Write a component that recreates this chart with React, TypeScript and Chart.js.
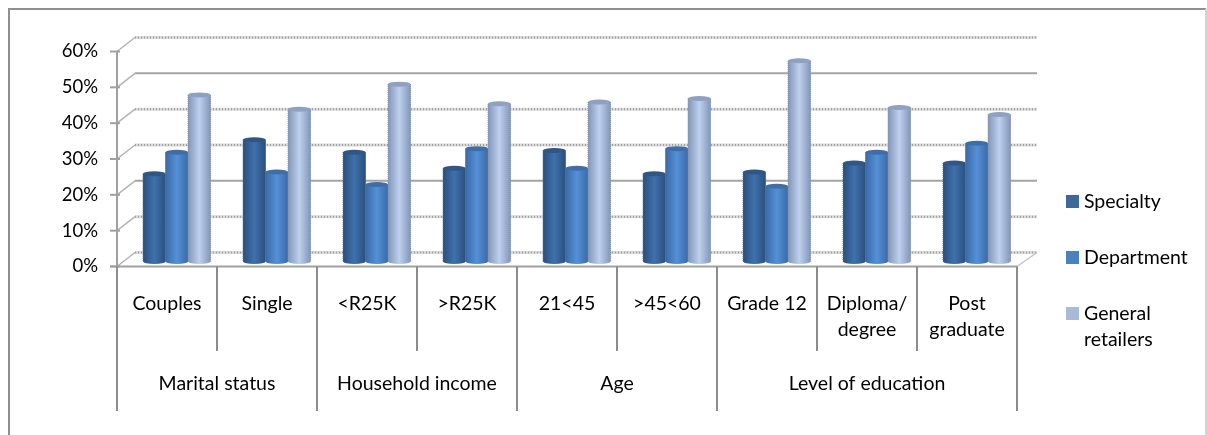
import React, { useEffect, useRef } from "react";
import { Chart, registerables } from "chart.js";

Chart.register(...registerables);

const categories: (string | string[])[] = [
  "Couples", "Single", "<R25K", ">R25K", "21<45", ">45<60", "Grade 12",
  ["Diploma/", "degree"], ["Post", "graduate"],
];
const groupLabels = ["Marital status", "Household income", "Age", "Level of education"];
const groupSpans = [2, 2, 2, 3];

const specialty = [24.5, 34, 30.5, 26, 31, 24.5, 25, 27.5, 27.5];
const department = [30.5, 25, 21.5, 31.5, 26, 31.5, 21, 30.5, 33];
const generalRetailers = [46.5, 42.5, 49.5, 44, 44.5, 45.5, 56, 43, 41];

const seriesNames: string[][] = [["Specialty"], ["Department"], ["General", "retailers"]];
const seriesColors = ["#3f6797", "#4d81bd", "#a9b9d8"];
const seriesShades = [
  { edge: "#2b4f7e", mid: "#3f71ab", cap: "#2f5686", rim: "#4a6c96" },
  { edge: "#3a6aa6", mid: "#5590d8", cap: "#3e6ea8", rim: "#5478a8" },
  { edge: "#8496b8", mid: "#bdd0ee", cap: "#8fa1c2", rim: "#7f8fac" },
];
const dottedGrid = [60, 40, 30, 10, 0];
const solidGrid = [50, 20];

const FONT = "Lato, Carlito, sans-serif";
const AXIS = "#a0a0a0";
const DIVIDER = "#8c8c8c";
// Perspective of the chart box: back wall and bar plane relative to the front axes.
const WALL_DX = 18;
const WALL_DY = -14;
const BAR_DX = 9.8;
const BAR_DY = -5;

const boxPlugin = {
  id: "box3d",
  beforeDatasetsDraw(chart: any) {
    const { ctx, scales } = chart;
    const { x: xs, y: ys } = scales;
    const half = (xs.getPixelForValue(1) - xs.getPixelForValue(0)) / 2;
    const left = xs.getPixelForValue(0) - half;
    const right = xs.getPixelForValue(categories.length - 1) + half;
    ctx.save();

    // Outer frame of the chart object
    ctx.strokeStyle = "#8f8f8f";
    ctx.lineWidth = 2;
    ctx.beginPath();
    ctx.moveTo(9, 435);
    ctx.lineTo(9, 9);
    ctx.lineTo(1206, 9);
    ctx.stroke();
    ctx.strokeStyle = "#d4d4d4";
    ctx.beginPath();
    ctx.moveTo(1206, 9);
    ctx.lineTo(1206, 435);
    ctx.stroke();

    // Back wall grid lines and their diagonals back from the value axis
    for (const v of [...dottedGrid, ...solidGrid]) {
      const y = ys.getPixelForValue(v);
      const yb = y + WALL_DY;
      ctx.setLineDash([]);
      ctx.strokeStyle = "#b4b4b4";
      ctx.lineWidth = 1.5;
      ctx.beginPath();
      ctx.moveTo(left, y);
      ctx.lineTo(left + WALL_DX, yb);
      ctx.stroke();
      if (dottedGrid.includes(v)) {
        ctx.strokeStyle = "#dadada";
        ctx.lineWidth = 3;
        ctx.beginPath();
        ctx.moveTo(left + WALL_DX, yb);
        ctx.lineTo(right + WALL_DX + 2, yb);
        ctx.stroke();
        ctx.strokeStyle = "#a0a0a0";
        ctx.lineWidth = 2;
        ctx.setLineDash([1, 2]);
      } else {
        ctx.strokeStyle = "#a4a4a4";
        ctx.lineWidth = 2;
      }
      ctx.beginPath();
      ctx.moveTo(left + WALL_DX, yb);
      ctx.lineTo(right + WALL_DX + 2, yb);
      ctx.stroke();
      ctx.setLineDash([]);

      // Tick mark on the value axis
      ctx.strokeStyle = AXIS;
      ctx.lineWidth = 2;
      ctx.beginPath();
      ctx.moveTo(left - 7, y);
      ctx.lineTo(left + 3, y);
      ctx.stroke();
    }

    // Floor edge on the right
    const y0 = ys.getPixelForValue(0);
    ctx.strokeStyle = "#c4c4c4";
    ctx.lineWidth = 1.5;
    ctx.beginPath();
    ctx.moveTo(right, y0);
    ctx.lineTo(right + WALL_DX + 2, y0 + WALL_DY);
    ctx.stroke();

    // Front axes
    ctx.strokeStyle = AXIS;
    ctx.lineWidth = 2;
    ctx.beginPath();
    ctx.moveTo(left, ys.getPixelForValue(60));
    ctx.lineTo(left, y0);
    ctx.moveTo(left - 7, y0);
    ctx.lineTo(right, y0);
    ctx.stroke();

    // Category dividers: short between items, long between groups
    const groupEdges = new Set<number>([0]);
    let acc = 0;
    for (const s of groupSpans) {
      acc += s;
      groupEdges.add(acc);
    }
    ctx.strokeStyle = DIVIDER;
    ctx.lineWidth = 2;
    for (let i = 0; i <= categories.length; i++) {
      const x = left + i * half * 2;
      ctx.beginPath();
      ctx.moveTo(x, y0);
      ctx.lineTo(x, groupEdges.has(i) ? 411 : 351);
      ctx.stroke();
    }

    // Group captions under the categories
    ctx.fillStyle = "#000";
    ctx.font = `19.5px ${FONT}`;
    ctx.textAlign = "center";
    ctx.textBaseline = "middle";
    let start = 0;
    groupLabels.forEach((g, i) => {
      ctx.fillText(g, left + (start + groupSpans[i] / 2) * half * 2, 384);
      start += groupSpans[i];
    });

    // Legend
    let rowY = 202;
    seriesNames.forEach((lines, i) => {
      ctx.fillStyle = seriesColors[i];
      ctx.fillRect(1066, rowY - 7, 13, 13);
      ctx.fillStyle = "#000";
      ctx.textAlign = "left";
      lines.forEach((t, k) => ctx.fillText(t, 1084, rowY + k * 26));
      rowY += 56;
    });
    ctx.restore();

    // Bars stand on a plane between the front axes and the back wall
    ctx.save();
    ctx.translate(BAR_DX, BAR_DY);
  },
  afterDatasetsDraw(chart: any) {
    const { ctx } = chart;
    // Round the flat bars into cylinders
    chart.data.datasets.forEach((_: any, di: number) => {
      const shade = seriesShades[di];
      for (const el of chart.getDatasetMeta(di).data) {
        const { x, y, base, width } = el.getProps(["x", "y", "base", "width"], true);
        const l = x - width / 2;
        const r = x + width / 2;
        const ry = 2.5;
        const g = ctx.createLinearGradient(l, 0, r, 0);
        g.addColorStop(0, shade.edge);
        g.addColorStop(0.5, shade.mid);
        g.addColorStop(1, shade.edge);
        ctx.fillStyle = g;
        ctx.fillRect(l, y, width, base - y);
        ctx.beginPath();
        ctx.ellipse(x, base, width / 2, ry, 0, 0, Math.PI * 2);
        ctx.fill();
        ctx.fillStyle = shade.cap;
        ctx.beginPath();
        ctx.ellipse(x, y, width / 2, ry, 0, 0, Math.PI * 2);
        ctx.fill();
        ctx.strokeStyle = shade.rim;
        ctx.lineWidth = 1;
        ctx.setLineDash([1, 1]);
        ctx.beginPath();
        ctx.moveTo(l, y);
        ctx.lineTo(l, base);
        ctx.moveTo(r, y);
        ctx.lineTo(r, base);
        ctx.stroke();
        ctx.setLineDash([]);
      }
    });
    ctx.restore();
  },
};

export default function App() {
  const ref = useRef<HTMLCanvasElement>(null);
  useEffect(() => {
    const chart = new Chart(ref.current!, {
      type: "bar",
      data: {
        labels: categories as any,
        datasets: [specialty, department, generalRetailers].map((data, i) => ({
          label: seriesNames[i].join(" "),
          data,
          backgroundColor: seriesColors[i],
          borderWidth: 0,
          categoryPercentage: 0.675,
          barPercentage: 1,
        })),
      },
      options: {
        responsive: false,
        animation: false,
        layout: { padding: { top: 51.5, right: 190, left: 0, bottom: 0 } },
        plugins: { legend: { display: false }, tooltip: { enabled: false } },
        scales: {
          x: {
            border: { display: false },
            grid: { display: false },
            ticks: {
              autoSkip: false,
              maxRotation: 0,
              color: "#000",
              padding: 16,
              font: { family: FONT, size: 19.5, lineHeight: 1.33 },
            },
            afterFit: (s: any) => { s.height = 168.5; },
          },
          y: {
            min: 0,
            max: 60,
            border: { display: false },
            grid: { display: false, drawTicks: false },
            ticks: {
              stepSize: 10,
              color: "#000",
              padding: 19,
              font: { family: FONT, size: 18.5 },
              callback: (v: any) => `${v}%`,
            },
            afterFit: (s: any) => { s.width = 117; },
          },
        },
      },
      plugins: [boxPlugin],
    } as any);
    return () => chart.destroy();
  }, []);
  return (
    <div style={{ position: "absolute", left: 0, top: 0, width: 1207, height: 435, background: "#fff" }}>
      <canvas ref={ref} width={1207} height={435} style={{ display: "block" }} />
    </div>
  );
}
